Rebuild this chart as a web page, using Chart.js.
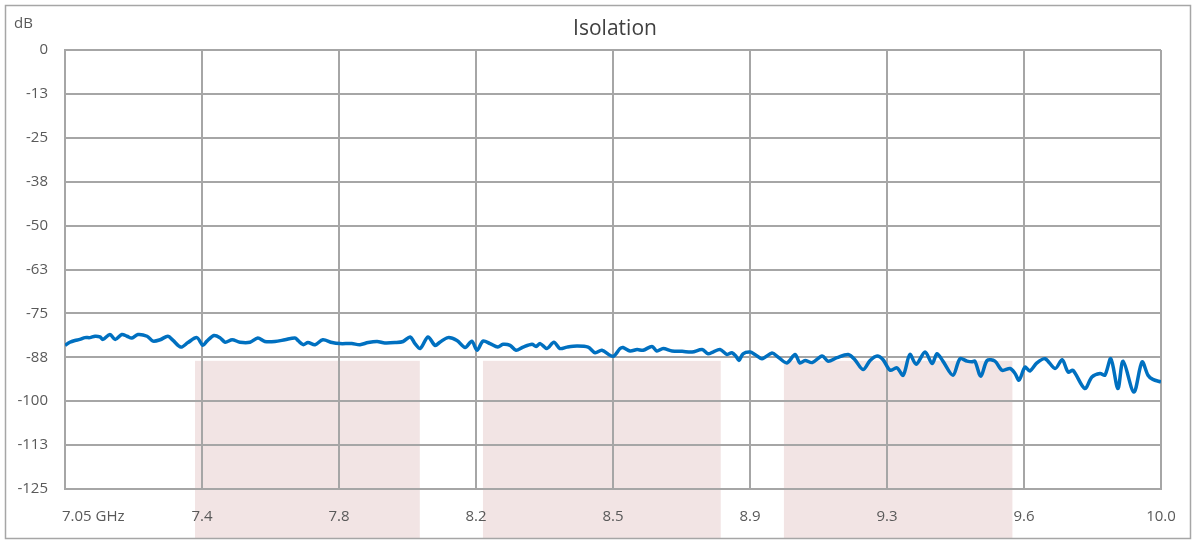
<!DOCTYPE html>
<html>
<head>
<meta charset="utf-8">
<title>Isolation</title>
<script src="https://cdn.jsdelivr.net/npm/chart.js@4.4.1/dist/chart.umd.min.js"></script>
<style>
  html, body { margin: 0; padding: 0; background: #fff; }
  #wrap { width: 1196px; height: 540px; position: relative; }
</style>
</head>
<body>
<div id="wrap"><canvas id="isoChart"></canvas></div>
<script>
'use strict';

/* ---- Data ---- */
const FREQ_GHZ = [
  7.050, 7.063, 7.077, 7.090, 7.104, 7.117, 7.131, 7.144, 7.152, 7.171,
  7.185, 7.203, 7.217, 7.230, 7.246, 7.271, 7.287, 7.306, 7.327, 7.341,
  7.362, 7.381, 7.405, 7.421, 7.432, 7.451, 7.467, 7.481, 7.500, 7.521,
  7.548, 7.569, 7.588, 7.615, 7.642, 7.669, 7.677, 7.691, 7.704, 7.723,
  7.744, 7.769, 7.790, 7.822, 7.844, 7.866, 7.890, 7.911, 7.938, 7.960,
  7.979, 7.992, 8.006, 8.027, 8.046, 8.059, 8.081, 8.105, 8.127, 8.145,
  8.159, 8.175, 8.194, 8.215, 8.229, 8.248, 8.264, 8.283, 8.307, 8.318,
  8.329, 8.347, 8.366, 8.382, 8.401, 8.428, 8.458, 8.477, 8.495, 8.525,
  8.544, 8.552, 8.571, 8.590, 8.606, 8.630, 8.643, 8.660, 8.684, 8.711,
  8.738, 8.765, 8.781, 8.794, 8.813, 8.832, 8.845, 8.856, 8.864, 8.875,
  8.894, 8.907, 8.926, 8.953, 8.969, 8.993, 9.015, 9.028, 9.042, 9.061,
  9.088, 9.104, 9.128, 9.158, 9.176, 9.198, 9.217, 9.236, 9.252, 9.271,
  9.289, 9.306, 9.324, 9.341, 9.365, 9.384, 9.397, 9.413, 9.440, 9.459,
  9.478, 9.491, 9.499, 9.515, 9.532, 9.553, 9.572, 9.594, 9.607, 9.618,
  9.634, 9.647, 9.666, 9.688, 9.715, 9.734, 9.750, 9.763, 9.795, 9.814,
  9.836, 9.849, 9.865, 9.884, 9.898, 9.927, 9.949, 9.965, 9.978, 10.000
];
const ISOLATION_DB = [
  -84.1, -83.2, -82.7, -82.4, -81.9, -81.9, -81.5, -81.7, -82.4, -81.0,
  -82.4, -81.0, -81.5, -82.0, -81.0, -81.5, -82.9, -82.5, -81.5, -82.7,
  -84.6, -83.3, -81.9, -84.1, -82.9, -81.3, -81.9, -83.2, -82.5, -83.2,
  -83.2, -82.0, -83.0, -83.0, -82.5, -82.0, -82.7, -83.9, -83.3, -83.9,
  -82.5, -83.3, -83.6, -83.6, -83.9, -83.3, -83.0, -83.4, -83.3, -83.0,
  -81.7, -83.6, -85.0, -81.7, -84.1, -83.2, -81.9, -82.7, -84.7, -82.9,
  -85.5, -82.9, -83.6, -84.6, -83.8, -84.1, -85.5, -84.6, -83.8, -84.4,
  -83.6, -85.0, -83.2, -85.0, -84.6, -84.3, -84.6, -86.2, -85.5, -87.2,
  -85.0, -84.7, -85.7, -85.3, -85.5, -84.4, -85.7, -85.0, -85.7, -85.8,
  -86.0, -85.3, -86.5, -86.0, -85.3, -86.7, -86.2, -87.2, -88.4, -86.5,
  -86.0, -86.7, -87.9, -86.3, -87.4, -89.1, -86.7, -89.1, -88.4, -89.0,
  -87.1, -88.6, -87.6, -86.7, -88.2, -91.0, -88.4, -87.1, -88.2, -91.2,
  -90.5, -92.6, -86.7, -89.5, -86.0, -89.3, -86.5, -88.6, -92.6, -87.9,
  -88.6, -88.8, -88.6, -92.9, -88.4, -88.6, -91.2, -90.7, -92.1, -94.0,
  -90.3, -91.4, -89.1, -87.9, -90.7, -88.2, -91.7, -91.2, -96.4, -93.1,
  -92.1, -92.6, -87.9, -96.4, -88.6, -97.4, -88.8, -92.6, -93.8, -94.5
];

const X_TICKS = [7.05, 7.41875, 7.7875, 8.15625, 8.525, 8.89375, 9.2625, 9.63125, 10.0];
const X_TICK_LABELS = ['7.05 GHz', '7.4', '7.8', '8.2', '8.5', '8.9', '9.3', '9.6', '10.0'];
const Y_TICK_LABELS = ['0', '-13', '-25', '-38', '-50', '-63', '-75', '-88', '-100', '-113', '-125'];

// shaded bands (GHz) and their upper level (dB)
const BAND_START = [7.40, 8.175, 8.985];
const BAND_END   = [8.005, 8.815, 9.60];
const BAND_TOP_DB = -88.5;

/* ---- Styles ---- */
const COLORS = {
  line:   '#0070c0',
  grid:   '#a6a6a6',
  band:   '#f2e4e4',
  tick:   '#595959',
  title:  '#404040',
  frame:  '#a6a6a6',
};
const FONT = "'Open Sans', 'Liberation Sans', sans-serif";

/* ---- Plugins ---- */
const bandsPlugin = {
  id: 'bands',
  beforeDraw(chart) {
    const { ctx, scales: { x, y } } = chart;
    ctx.save();
    ctx.fillStyle = '#ffffff';
    ctx.fillRect(0, 0, chart.width, chart.height);
    ctx.fillStyle = COLORS.band;
    const top = y.getPixelForValue(BAND_TOP_DB);
    BAND_START.forEach((s, i) => {
      const x0 = x.getPixelForValue(s);
      const x1 = x.getPixelForValue(BAND_END[i]);
      ctx.fillRect(x0, top, x1 - x0, chart.height - 2 - top);
    });
    ctx.restore();
  },
  afterDraw(chart) {
    const { ctx, chartArea, scales: { x } } = chart;
    ctx.save();
    // outer frame
    ctx.strokeStyle = COLORS.frame;
    ctx.lineWidth = 1.5;
    ctx.strokeRect(5.5, 5.5, chart.width - 11, chart.height - 7);
    // title
    ctx.fillStyle = COLORS.title;
    ctx.font = `21px ${FONT}`;
    ctx.textAlign = 'center';
    ctx.textBaseline = 'middle';
    ctx.fillText('Isolation', (chartArea.left + chartArea.right) / 2 + 2, 29);
    // unit label
    ctx.fillStyle = COLORS.tick;
    ctx.font = `15px ${FONT}`;
    ctx.textAlign = 'left';
    ctx.fillText('dB', 14, 24);
    // first x label is left aligned in the reference
    ctx.fillText(X_TICK_LABELS[0], x.getPixelForValue(X_TICKS[0]) - 3, 517);
    ctx.restore();
  }
};

/* ---- Chart ---- */
function initIsolationChart() {
  const ctx = document.getElementById('isoChart');
  new Chart(ctx, {
    type: 'line',
    data: {
      datasets: [{
        data: FREQ_GHZ.map((f, i) => ({ x: f, y: ISOLATION_DB[i] })),
        borderColor: COLORS.line,
        borderWidth: 3.5,
        pointRadius: 0,
        tension: 0.3,
        fill: false,
      }]
    },
    options: {
      responsive: true, maintainAspectRatio: false,
      animation: false,
      layout: { padding: { top: 50, right: 35, left: 0, bottom: 0 } },
      plugins: { legend: { display: false }, tooltip: { enabled: false }, title: { display: false } },
      scales: {
        x: {
          type: 'linear', min: 7.05, max: 10.0,
          afterBuildTicks: s => { s.ticks = X_TICKS.map(v => ({ value: v })); },
          afterFit: s => { s.height = 51; },
          grid: { color: COLORS.grid, lineWidth: 2, drawTicks: false },
          border: { color: COLORS.grid, width: 2 },
          ticks: {
            color: COLORS.tick, font: { family: FONT, size: 15 }, padding: 19,
            maxRotation: 0, autoSkip: false,
            callback: (v, i) => (i === 0 ? '' : X_TICK_LABELS[i])
          }
        },
        y: {
          min: -125, max: 0,
          afterBuildTicks: s => { s.ticks = Y_TICK_LABELS.map((_, i) => ({ value: -12.5 * i })); },
          afterFit: s => { s.width = 65; },
          grid: { color: COLORS.grid, lineWidth: 2, drawTicks: false },
          border: { color: COLORS.grid, width: 2 },
          ticks: {
            color: COLORS.tick, font: { family: FONT, size: 15 }, padding: 17,
            autoSkip: false,
            callback: v => Y_TICK_LABELS[Math.round(-v / 12.5)]
          }
        }
      }
    },
    plugins: [bandsPlugin]
  });
}

document.addEventListener('DOMContentLoaded', initIsolationChart);
</script>
</body>
</html>
